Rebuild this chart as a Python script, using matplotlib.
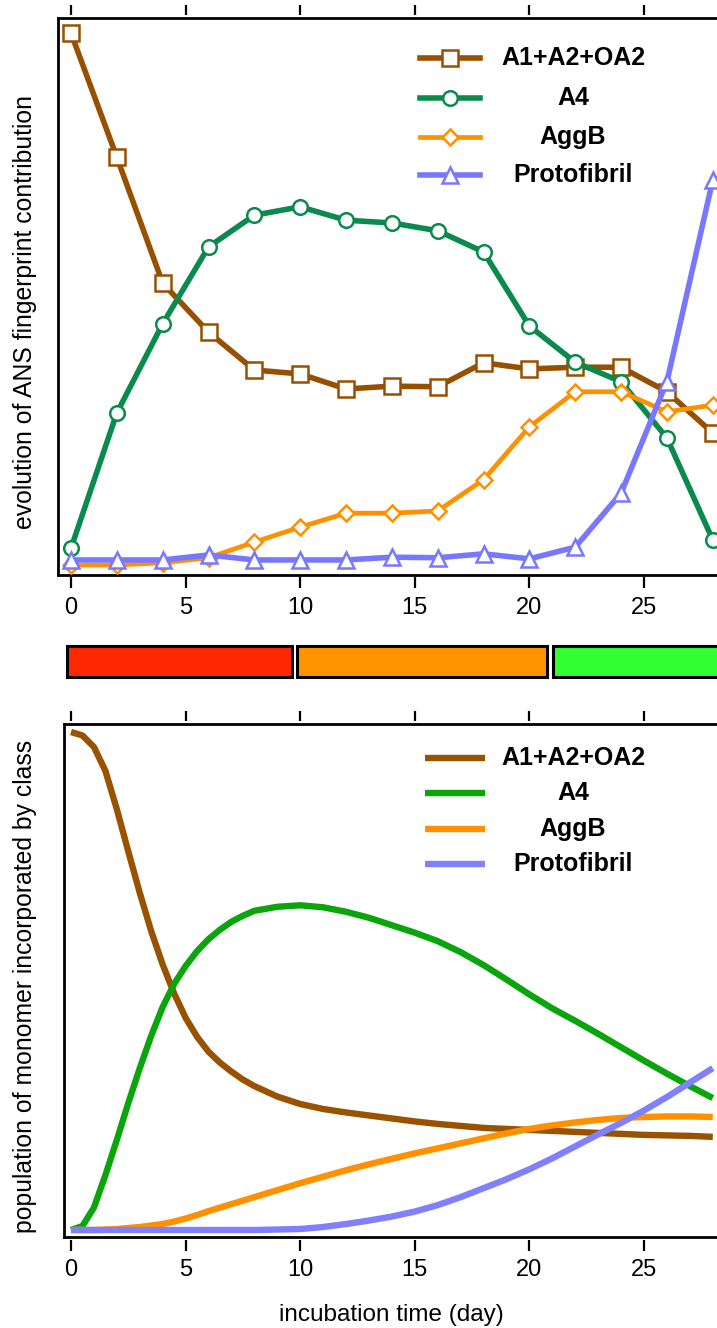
import matplotlib
matplotlib.use("Agg")
import matplotlib.pyplot as plt
from matplotlib.lines import Line2D

plt.rcParams['font.family'] = ['Liberation Sans', 'DejaVu Sans']

# ---------------- data ----------------
series_names = ["A1+A2+OA2", "A4", "AggB", "Protofibril"]

# top panel: ANS fingerprint contributions (arbitrary units)
days_top = [0, 2, 4, 6, 8, 10, 12, 14, 16, 18, 20, 22, 24, 26, 28]
a1_top = [0.973, 0.750, 0.524, 0.436, 0.368, 0.361, 0.334, 0.339, 0.338, 0.381, 0.370, 0.373, 0.373, 0.329, 0.255]
a4_top = [0.048, 0.291, 0.451, 0.589, 0.646, 0.661, 0.637, 0.632, 0.618, 0.580, 0.447, 0.382, 0.347, 0.246, 0.063]
aggb_top = [0.018, 0.018, 0.022, 0.031, 0.059, 0.086, 0.111, 0.111, 0.115, 0.171, 0.266, 0.329, 0.329, 0.293, 0.305]
proto_top = [0.027, 0.027, 0.027, 0.036, 0.027, 0.027, 0.027, 0.032, 0.031, 0.038, 0.029, 0.050, 0.147, 0.347, 0.709]

# bottom panel: population of monomer incorporated by class (relative)
days_bot = [0, 0.5, 1, 1.5, 2, 2.5, 3, 3.5, 4, 4.5, 5, 5.5, 6, 6.5, 7, 7.5, 8,
            9, 10, 11, 12, 13, 14, 15, 16, 17, 18, 19, 20, 21, 22, 23, 24, 25, 26, 27, 28]
a1_bot = [1.000, 0.993, 0.970, 0.922, 0.845, 0.760, 0.677, 0.600, 0.533, 0.475, 0.426, 0.388, 0.358,
          0.336, 0.318, 0.302, 0.289,
          0.268, 0.253, 0.243, 0.236, 0.230, 0.224, 0.218, 0.213, 0.209, 0.205, 0.203,
          0.201, 0.199, 0.197, 0.195, 0.193, 0.191, 0.190, 0.189, 0.187]
a4_bot = [0.000, 0.008, 0.045, 0.110, 0.181, 0.255, 0.325, 0.390, 0.448, 0.494, 0.530, 0.560, 0.584,
          0.603, 0.619, 0.631, 0.641,
          0.649, 0.652, 0.648, 0.639, 0.627, 0.612, 0.597, 0.580, 0.558, 0.532, 0.503,
          0.473, 0.445, 0.420, 0.394, 0.367, 0.340, 0.314, 0.289, 0.265]
aggb_bot = [0.000, 0.000, 0.000, 0.001, 0.002, 0.004, 0.006, 0.009, 0.012, 0.017, 0.023, 0.030, 0.038,
            0.045, 0.052, 0.059, 0.066,
            0.080, 0.094, 0.107, 0.120, 0.132, 0.143, 0.154, 0.164, 0.174, 0.184, 0.194,
            0.203, 0.210, 0.216, 0.221, 0.225, 0.227, 0.228, 0.228, 0.227]
proto_bot = [0.0, 0.0, 0.0, 0.0, 0.0, 0.0, 0.0, 0.0, 0.0, 0.0, 0.0, 0.0, 0.0,
             0.0, 0.0, 0.0, 0.0,
             0.001, 0.002, 0.006, 0.012, 0.019, 0.027, 0.037, 0.050, 0.066, 0.084, 0.102,
             0.122, 0.144, 0.168, 0.192, 0.215, 0.240, 0.267, 0.296, 0.325]

# stage bar between panels
stage_start = [-0.17, 9.86, 21.03]
stage_end = [9.64, 20.77, 31.0]
stage_colors = ["#FF2800", "#FF9300", "#33FF33"]

xticks = [0, 5, 10, 15, 20, 25]

# ---------------- styles ----------------
top_colors = ["#965000", "#0A8A4C", "#FF9100", "#7878FF"]
top_markers = ["s", "o", "D", "^"]
top_ms = [11, 10.5, 8.5, 11]
top_lw = [4.0, 4.0, 3.4, 4.0]
bot_colors = ["#985200", "#0AA50A", "#FF9100", "#8080FF"]

W, H = 717, 1328
fig = plt.figure(figsize=(W / 100, H / 100), dpi=100)

def fx(px):
    return px / W

def fy(py):
    return 1 - py / H

PX_PER_DAY = 22.92
X0 = 71.0
XMAX = 30.0

def make_axes(left_px, top_px, bottom_px):
    right_px = X0 + XMAX * PX_PER_DAY
    ax = fig.add_axes([fx(left_px), fy(bottom_px), (right_px - left_px) / W, (bottom_px - top_px) / H])
    ax.set_xlim((left_px - X0) / PX_PER_DAY, XMAX)
    return ax

def style_axes(ax, height_px):
    for s in ax.spines.values():
        s.set_linewidth(2.0)
        s.set_color("black")
    ax.tick_params(left=False, labelleft=False, bottom=False, labelbottom=False,
                   top=False, labeltop=False)
    gap = 2.5 / height_px
    sb = ax.secondary_xaxis(-gap)
    sb.spines['bottom'].set_visible(False)
    sb.set_xticks(xticks)
    sb.set_xticklabels([str(t) for t in xticks])
    sb.tick_params(axis='x', direction='out', length=8, width=1.6, labelsize=17, pad=6)
    st = ax.secondary_xaxis(1 + gap)
    st.spines['top'].set_visible(False)
    st.set_xticks(xticks)
    st.tick_params(axis='x', direction='out', length=7, width=1.6, labeltop=False)

# ---------------- top panel ----------------
ax1 = make_axes(57.5, 18, 575)
ax1.set_ylim(0, 1)
top_series = [a1_top, a4_top, aggb_top, proto_top]
for i, vals in enumerate(top_series):
    ax1.plot(days_top, vals, color=top_colors[i], lw=top_lw[i], marker=top_markers[i],
             ms=top_ms[i], mfc="white", mec=top_colors[i], mew=1.8, zorder=3 + i, clip_on=False,
             solid_joinstyle="round")
style_axes(ax1, 557)

# legend (top)
leg_rows_top = [58, 98, 137, 175]
for i, name in enumerate(series_names):
    y = fy(leg_rows_top[i])
    fig.add_artist(Line2D([fx(420), fx(480)], [y, y], transform=fig.transFigure,
                          color=top_colors[i], lw=top_lw[i]))
    fig.add_artist(Line2D([fx(450)], [y], transform=fig.transFigure, color=top_colors[i],
                          marker=top_markers[i], ms=top_ms[i], mfc="white",
                          mec=top_colors[i], mew=1.8, lw=0))
    fig.text(fx(573), y, name, ha="center", va="center", fontsize=18, fontweight="bold")

# ---------------- stage bar ----------------
axs = make_axes(57.5, 640, 683)
axs.set_ylim(0, 1)
axs.barh([0.5] * 3, [e - s for s, e in zip(stage_start, stage_end)], left=stage_start,
         height=0.72, color=stage_colors, edgecolor="black", linewidth=2.2)
axs.axis("off")

# ---------------- bottom panel ----------------
ax2 = make_axes(63.5, 724, 1237)
ax2.set_ylim((1230 - 1237) / 498, (1230 - 724) / 498)
bot_series = [a1_bot, a4_bot, aggb_bot, proto_bot]
for i, vals in enumerate(bot_series):
    ax2.plot(days_bot, vals, color=bot_colors[i], lw=4.6, zorder=3 + i,
             solid_capstyle="butt", solid_joinstyle="round")
style_axes(ax2, 513)

leg_rows_bot = [758, 793, 829, 864]
for i, name in enumerate(series_names):
    y = fy(leg_rows_bot[i])
    fig.add_artist(Line2D([fx(425), fx(485)], [y, y], transform=fig.transFigure,
                          color=bot_colors[i], lw=4.6, solid_capstyle="butt"))
    fig.text(fx(573), y, name, ha="center", va="center", fontsize=18, fontweight="bold")

# ---------------- labels ----------------
fig.text(fx(25), fy(312), "evolution of ANS fingerprint contribution", rotation=90,
         ha="center", va="center", fontsize=17.8)
fig.text(fx(25), fy(986), "population of monomer incorporated by class", rotation=90,
         ha="center", va="center", fontsize=17.8)
fig.text(fx(391), fy(1315), "incubation time (day)", ha="center", va="center", fontsize=17.5)

fig.savefig("out.png", dpi=100)
